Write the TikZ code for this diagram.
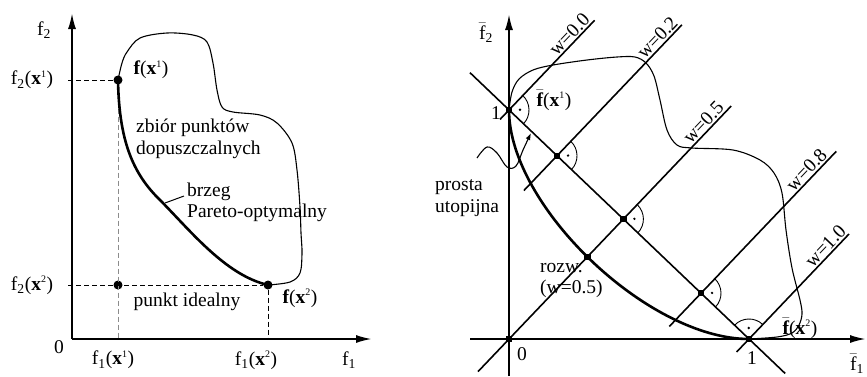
\documentclass[tikz,border=0pt]{standalone}
\usepackage{fontspec}
\setmainfont{Liberation Serif}
\usetikzlibrary{arrows.meta,calc,intersections}
\newcommand\mysup[1]{\textsuperscript{\fontsize{10}{10}\selectfont #1}}
\begin{document}
\begin{tikzpicture}[x=1pt,y=-1pt,
  axis/.style={line width=2pt,-{Latex[length=16pt,width=8pt]}},
  pareto/.style={line width=2.6pt},
  feas/.style={line width=1.1pt},
  wline/.style={line width=1.6pt},
  dashblack/.style={line width=1pt,dash pattern=on 5pt off 3pt},
  dashgray/.style={line width=1pt,dash pattern=on 5pt off 3pt,black!45},
  lbl/.style={font=\fontsize{19.5}{21}\selectfont,inner sep=0pt},
  dotc/.style={circle,fill,inner sep=0pt,minimum size=9pt},
  dotsq/.style={rectangle,fill,inner sep=0pt,minimum size=6.5pt},
  rarc/.style={line width=0.9pt},
  rdot/.style={circle,fill,inner sep=0pt,minimum size=2.6pt},
]
\useasboundingbox (0,0) rectangle (867,376);

% ---------------- left diagram ----------------
\coordinate (LO) at (72,339);
\coordinate (LYtip) at (72,13);
\coordinate (LXtip) at (372,339);
\coordinate (LY1) at (68,80);
\coordinate (LY2) at (68,285);
\coordinate (LX1) at (118,339);
\coordinate (LX2) at (268,339);

\draw[axis] (LO) -- (LYtip);
\draw[axis] (LO) -- (LXtip);

\node[dotc] (fx1) at (118,80) {};
\node[dotc] (fx2) at (268,285) {};
\node[dotc] (ideal) at (118,285) {};

\draw[dashblack] (LY1) -- (fx1);
\draw[dashgray] (fx1) -- (LX1);
\draw[dashblack] (LY2) -- (fx2);
\draw[dashblack] (fx2) -- (LX2);

\draw[feas] plot[smooth,tension=0.55] coordinates {(118,80) (122,63) (127,52) (140,38) (167,33) (193,35) (207,42) (213,63) (217,90) (222,107) (233,112) (260,115) (277,123) (292,143) (297,170) (300,207) (301,233) (302,253) (300,273) (290,282) (268,285)};
\draw[pareto] (118,80) .. controls (119,135) and (130,170) .. (158,198) .. controls (190,230) and (225,275) .. (268,285);

\node[lbl] (lf2) at (44,30) {f\textsubscript{2}};
\node[lbl] (l0) at (59,347) {0};
\node[lbl] (lf1) at (349,360) {f\textsubscript{1}};
\node[lbl] (lf2x1) at (32,80) {f\textsubscript{2}(\textbf{x}\mysup{1})};
\node[lbl] (lf2x2) at (32,285) {f\textsubscript{2}(\textbf{x}\mysup{2})};
\node[lbl] (lf1x1) at (113,360) {f\textsubscript{1}(\textbf{x}\mysup{1})};
\node[lbl] (lf1x2) at (256,360) {f\textsubscript{1}(\textbf{x}\mysup{2})};
\node[lbl] (lfx1) at (151,70) {\textbf{f}(\textbf{x}\mysup{1})};
\node[lbl] (lfx2) at (300,298) {\textbf{f}(\textbf{x}\mysup{2})};
\node[lbl,anchor=west] (zb1) at (136,128) {zbiór punktów};
\node[lbl,anchor=west] (zb2) at (136,150) {dopuszczalnych};
\node[lbl,anchor=west] (br1) at (187,192) {brzeg};
\node[lbl,anchor=west] (br2) at (187,213) {Pareto-optymalny};
\node[lbl] (pid) at (187,302) {punkt idealny};
\coordinate (lead1) at (165,203);
\coordinate (lead2) at (184,196);
\draw[line width=1pt] (lead1) -- (lead2);

% ---------------- right diagram ----------------
\coordinate (O) at (509,339);
\coordinate (A) at (509,110);
\coordinate (B) at (749,339);
\coordinate (P2) at (557,155.8);
\coordinate (F) at (623.4,219.1);
\coordinate (P8) at (701,293.2);
\coordinate (RYbot) at (509,376);
\coordinate (RYtip) at (509,14);
\coordinate (RXleft) at (470,339);
\coordinate (RXtip) at (866,339);

\draw[feas] plot[smooth,tension=0.55] coordinates {(509,110) (512,92) (519,79) (533,70) (553,65) (587,60) (617,57) (635,57) (646,63) (654,76) (660,100) (667,130) (677,145) (692,148) (733,150) (760,160) (774,173) (782,193) (786,230) (792,268) (800,300) (802,314) (799,325) (792,333) (777,337) (749,339)};

\draw[axis] (RYbot) -- (RYtip);
\draw[axis] (RXleft) -- (RXtip);

\coordinate (U1) at (470,72.7);
\coordinate (U2) at (785.2,373.5);
\draw[wline] (U1) -- (U2);

\coordinate (W0a) at (500,119.4);  \coordinate (W0b) at (594.6,20.3);
\coordinate (W2a) at (523.9,190.5); \coordinate (W2b) at (681.9,24.8);
\coordinate (W5a) at (478,371.6);  \coordinate (W5b) at (731.2,106);
\coordinate (W8a) at (669.3,326.5); \coordinate (W8b) at (836.2,151.4);
\coordinate (W10a) at (736.6,352); \coordinate (W10b) at (849,234);

\draw[wline] (W0a) -- node[lbl,pos=0.80,sloped,above=1.5pt] {w=0.0} (W0b);
\draw[wline] (W2a) -- node[lbl,pos=0.885,sloped,above=1.5pt] {w=0.2} (W2b);
\draw[wline,name path=w5] (W5a) -- node[lbl,pos=0.915,sloped,above=1.5pt] {w=0.5} (W5b);
\draw[wline] (W8a) -- node[lbl,pos=0.86,sloped,above=1.5pt] {w=0.8} (W8b);
\draw[wline] (W10a) -- node[lbl,pos=0.847,sloped,above=1.5pt] {w=1.0} (W10b);

\draw[pareto,name path=pc] (A) .. controls (509,206) and (648,339) .. (B);
\path[name intersections={of=pc and w5,by=R}];

\foreach \p in {A,P2,F,P8}{
  \draw[rarc] ($(\p)+(-46.36:20)$) arc[start angle=-46.36,end angle=43.64,radius=20];
  \node[rdot] at ($(\p)+(-1.36:11)$) {};
}
\draw[rarc] ($(B)+(-136.36:20)$) arc[start angle=-136.36,end angle=-46.36,radius=20];
\node[rdot] at ($(B)+(-91.36:11)$) {};

\node[dotsq] (nA) at (A) {};
\node[dotsq] (nP2) at (P2) {};
\node[dotsq] (nF) at (F) {};
\node[dotsq] (nP8) at (P8) {};
\node[dotsq] (nB) at (B) {};
\node[dotsq] (nO) at (O) {};
\node[dotsq] (nR) at (R) {};

\draw[line width=1.1pt,-{Latex[length=7pt,width=5pt]}] plot[smooth,tension=0.6] coordinates {(477,158) (487,147) (497,153) (507,167) (516,166) (523,150) (531,133)};

\node[lbl] (rf2) at (486,33) {$\bar{\mbox{f}}$\textsubscript{2}};
\node[lbl] (r1a) at (496,113) {1};
\node[lbl] (r0) at (522,354) {0};
\node[lbl] (r1b) at (752,358) {1};
\node[lbl] (rf1) at (857,364) {$\bar{\mbox{f}}$\textsubscript{1}};
\node[lbl] (rfx1) at (554,100) {$\bar{\mbox{\textbf{f}}}$(\textbf{x}\mysup{1})};
\node[lbl] (rfx2) at (800,328) {$\bar{\mbox{\textbf{f}}}$(\textbf{x}\mysup{2})};
\node[lbl,anchor=west] (pr1) at (435,187) {prosta};
\node[lbl,anchor=west] (pr2) at (435,208) {utopijna};
\node[lbl,anchor=west,align=left] (rozw) at (540,280) {rozw.\\(w=0.5)};
\end{tikzpicture}
\end{document}
